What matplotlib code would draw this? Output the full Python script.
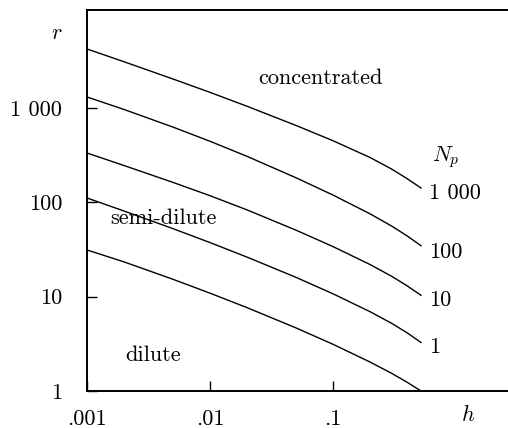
import matplotlib
matplotlib.use("Agg")
import matplotlib.pyplot as plt
from matplotlib.ticker import FixedLocator, FixedFormatter, NullLocator

plt.rcParams['mathtext.fontset'] = 'cm'

h = [0.001, 0.002, 0.005, 0.01, 0.02, 0.05, 0.1, 0.2, 0.3, 0.4, 0.52]
# r along each boundary curve
r_np1000 = [4236, 3101, 2035, 1469, 1046, 655, 451, 299.5, 225.6, 179, 142]
r_np100 = [1312, 967, 629, 445, 308, 182.6, 119.7, 75.7, 56.1, 44.2, 34.7]
r_np10 = [334, 246, 163, 117.8, 83.3, 50.8, 34.0, 21.95, 16.46, 13.07, 10.34]
r_np1 = [111.4, 81.0, 52.7, 37.5, 26.3, 16.05, 10.74, 6.94, 5.22, 4.15, 3.27]
r_dilute = [31.3, 23.4, 15.3, 10.9, 7.66, 4.67, 3.13, 2.03, 1.54, 1.24, 1.0]

np_labels = ["1 000", "100", "10", "1"]
np_label_y = [109, 25.7, 7.96, 2.53]

x_ticks = [0.001, 0.01, 0.1]
x_ticklabels = [".001", ".01", ".1"]
y_ticks = [1, 10, 100, 1000]
y_ticklabels = ["1", "10", "100", "1 000"]

fig = plt.figure(figsize=(5.08, 4.28), dpi=100)
ax = fig.add_axes([87/508, 37/428, 421/508, 381/428])

for r in [r_np1000, r_np100, r_np10, r_np1, r_dilute]:
    ax.plot(h, r, color="black", lw=1.0, solid_joinstyle="round")

ax.set_xscale("log")
ax.set_yscale("log")
ax.set_xlim(1e-3, 2.65)
ax.set_ylim(1, 10970)

ax.xaxis.set_major_locator(FixedLocator(x_ticks))
ax.xaxis.set_major_formatter(FixedFormatter(x_ticklabels))
ax.yaxis.set_major_locator(FixedLocator(y_ticks))
ax.yaxis.set_major_formatter(FixedFormatter(y_ticklabels))
ax.xaxis.set_minor_locator(NullLocator())
ax.yaxis.set_minor_locator(NullLocator())
ax.tick_params(axis="x", direction="in", length=7, width=1, pad=13, labelsize=16)
ax.tick_params(axis="y", direction="in", length=7, width=1, pad=18, labelsize=16)
for lab in ax.get_xticklabels() + ax.get_yticklabels():
    lab.set_fontfamily("cmr10")

ax.spines["right"].set_visible(False)
for s in ["left", "bottom", "top"]:
    ax.spines[s].set_linewidth(1.4)

serif = dict(fontfamily="cmr10", fontsize=16, color="black")
ax.text(0.0245, 1802, "concentrated", ha="left", va="baseline", **serif)
ax.text(0.00154, 59, "semi-dilute", ha="left", va="baseline", **serif)
ax.text(0.00204, 2.08, "dilute", ha="left", va="baseline", **serif)

for lab, yv in zip(np_labels, np_label_y):
    ax.text(0.6, yv, lab, ha="left", va="baseline", clip_on=False, **serif)
ax.text(0.638, 275, r"$N_p$", ha="left", va="baseline", fontsize=16)

ax.text(-0.071, 0.924, r"$r$", transform=ax.transAxes, ha="center", va="baseline", fontsize=16)
ax.text(0.905, -0.078, r"$h$", transform=ax.transAxes, ha="center", va="baseline", fontsize=16)

fig.savefig("out.png", dpi=100)
